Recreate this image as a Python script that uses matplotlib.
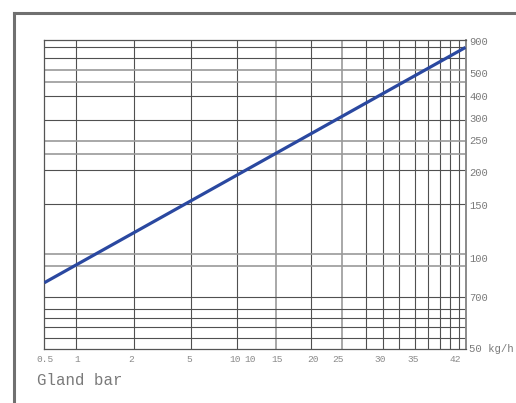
import matplotlib.pyplot as plt
from matplotlib import lines

# tick labels as printed on the chart
x_labels = ["0.5", "1", "2", "5", "10", "10", "15", "20", "25", "30", "35", "42"]
y_labels = ["900", "500", "400", "300", "250", "200", "150", "100", "700", "50 kg/h"]

# the straight line (chart units 0-100 on both axes)
line_x = [0, 100]
line_y = [21.4, 97.7]

# layout: where the grid lines and labels sit (chart units 0-100)
v_grid = [7.41, 21.18, 34.83, 45.82, 55.01, 63.25, 70.61, 76.31, 80.48,
          84.28, 87.94, 91.17, 94.02, 96.39, 98.39]
v_light = [55.01, 70.61]
h_grid = [97.73, 94.16, 90.21, 86.54, 81.78, 74.25, 67.51, 63.29, 58.04,
          46.85, 30.71, 26.82, 16.67, 12.87, 9.86, 6.94, 3.37]
h_light = [90.21, 86.54, 67.51, 63.29, 30.71, 26.82]
x_label_pos = [0.2, 7.7, 20.6, 34.3, 45.2, 48.8, 55.2, 63.8, 69.7, 79.7, 87.5, 97.5]
y_label_pos = [99.4, 89.1, 81.6, 74.5, 67.4, 57.0, 46.4, 29.1, 16.4, -0.1]

fig = plt.figure(figsize=(5.16, 4.03), dpi=100)
ax = fig.add_axes([0.0859, 0.1347, 0.8163, 0.7653])
ax.set_xlim(0, 100)
ax.set_ylim(0, 100)
ax.set_xticks([])
ax.set_yticks([])
for s in ax.spines.values():
    s.set_color("#555555")
    s.set_linewidth(0.9)
ax.spines["right"].set_color("#8a8a8a")
ax.spines["right"].set_linewidth(1.4)

for x in v_grid:
    if x in v_light:
        ax.axvline(x, color="#9a9a9a", lw=1.2)
    else:
        ax.axvline(x, color="#505050", lw=0.8)
for y in h_grid:
    if y in h_light:
        ax.axhline(y, color="#9a9a9a", lw=1.2)
    else:
        ax.axhline(y, color="#505050", lw=0.8)

ax.plot(line_x, line_y, color="#2a48a0", lw=2.3, solid_capstyle="butt", zorder=5)

for lab, x in zip(x_labels, x_label_pos):
    ax.text(x, -3.4, lab, ha="center", va="center", fontsize=6.8,
            color="#8a8a8a", family="Liberation Mono", clip_on=False)
for lab, y in zip(y_labels, y_label_pos):
    fs = 7.7 if "kg" in lab else 7.6
    ax.text(100.9, y, lab, ha="left", va="center", fontsize=fs,
            color="#7a7a7a", family="Liberation Mono", clip_on=False)

fig.text(0.072, 0.055, "Gland bar", fontsize=11.3, color="#7a7a7a",
         family="Liberation Mono", ha="left", va="center")

# outer grey frame
fig.add_artist(lines.Line2D([0.027, 1.0], [0.968, 0.968], color="#707070", lw=2.2))
fig.add_artist(lines.Line2D([0.027, 0.027], [0.0, 0.968], color="#707070", lw=2.2))

fig.savefig("out.png", dpi=100)
